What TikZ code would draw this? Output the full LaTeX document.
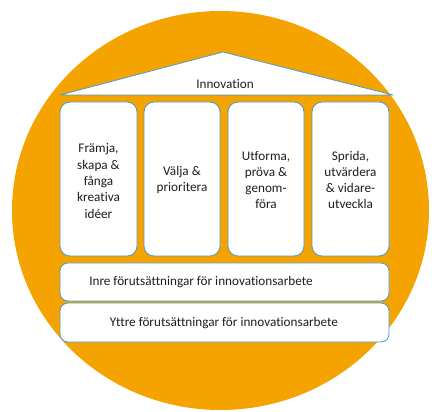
\documentclass[tikz,border=0pt]{standalone}
\usepackage{fontspec}
\setmainfont[Ligatures=NoCommon]{Carlito}
\definecolor{orng}{RGB}{244,163,0}
\definecolor{edge}{RGB}{75,155,195}
\definecolor{txt}{RGB}{30,30,30}
\begin{document}
\begin{tikzpicture}[x=1pt,y=-1pt,
  box/.style={draw=edge,line width=0.8pt,fill=white,rounded corners=10pt},
  lbl/.style={text=txt,font=\fontsize{13.2}{16.3}\selectfont,align=center}]
\useasboundingbox (0,0) rectangle (432,412);
\fill[orng] (220.5,210.5) ellipse [x radius=208.5, y radius=199.5];
% roof
\draw[edge,line width=0.8pt,fill=white,line join=round] (60,95) -- (223,52) -- (393,95) -- cycle;
\node[lbl] (roof) at (225,84) {Innovation};
% pillars
\draw[box] (60,102) rectangle (137,256);
\draw[box] (144,102) rectangle (220,256);
\draw[box] (228,102) rectangle (304,256);
\draw[box] (312,102) rectangle (389,256);
\node[lbl] (p1) at (98.5,181) {Främja,\\skapa \&\\fånga\\kreativa\\idéer};
\node[lbl] (p2) at (182,180) {Välja \&\\prioritera};
\node[lbl] (p3) at (266,180) {Utforma,\\pröva \&\\genom-\\föra};
\node[lbl] (p4) at (350.5,180) {Sprida,\\utvärdera\\\& vidare-\\utveckla};
% bars
\draw[box,rounded corners=8pt] (60,263) rectangle (389,301);
\draw[box,rounded corners=8pt] (60,303) rectangle (389,342);
\node[lbl] (inre) at (201,282) {Inre förutsättningar för innovationsarbete};
\node[lbl] (yttre) at (224,323) {Yttre förutsättningar för innovationsarbete};
\end{tikzpicture}
\end{document}
